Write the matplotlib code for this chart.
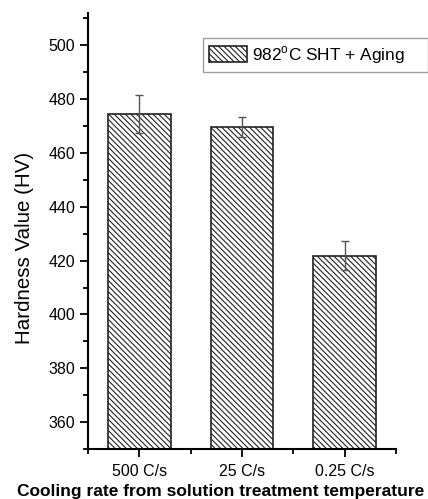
import matplotlib
matplotlib.use("Agg")
import matplotlib.pyplot as plt
from matplotlib.ticker import MultipleLocator, FixedLocator
import numpy as np

# data
categories = ["500 C/s", "25 C/s", "0.25 C/s"]
hardness = [474.4, 469.7, 421.8]
hardness_err = [7.0, 3.6, 5.4]
series_label = "982$^{\\mathrm{o}}$C SHT + Aging"

plt.rcParams["font.family"] = ["Liberation Sans", "DejaVu Sans"]
plt.rcParams["mathtext.fontset"] = "custom"
plt.rcParams["mathtext.rm"] = "Liberation Sans"
plt.rcParams["hatch.color"] = "#555555"
plt.rcParams["hatch.linewidth"] = 0.8

fig = plt.figure(figsize=(4.28, 4.99), dpi=100)
ax = fig.add_axes([0.2056, 0.1002, 0.7196, 0.8738])

x = np.arange(len(categories))
ax.bar(x, hardness, width=0.61, color="white", edgecolor="#222222",
       linewidth=1.2, hatch="\\\\\\\\\\\\", label=series_label, zorder=2)
ax.errorbar(x, hardness, yerr=hardness_err, fmt="none", ecolor="#555555",
            elinewidth=1.0, capsize=2.6, capthick=1.0, zorder=3)

ax.set_xlim(-0.5, len(categories) - 0.5)
ax.set_ylim(350, 512)
ax.set_xticks(x)
ax.set_xticklabels(categories, fontsize=11.5)
ax.xaxis.set_minor_locator(FixedLocator([-0.5, 0.5, 1.5, 2.5]))
ax.yaxis.set_minor_locator(MultipleLocator(10))
ax.set_yticks(np.arange(360, 501, 20))
ax.tick_params(axis="y", labelsize=11.5)

for side in ["top", "right"]:
    ax.spines[side].set_visible(False)
for side in ["left", "bottom"]:
    ax.spines[side].set_linewidth(1.5)
ax.tick_params(which="major", direction="out", length=6, width=1.3, pad=3)
ax.tick_params(axis="x", which="major", pad=5)
ax.tick_params(which="minor", direction="out", length=3.5, width=1.3)

ax.set_ylabel("Hardness Value (HV)", fontsize=14.8)
ax.yaxis.set_label_coords(-0.175, 0.46)
ax.set_xlabel("Cooling rate from solution treatment temperature",
              fontsize=12.5, fontweight="bold")
ax.xaxis.set_label_coords(0.432, -0.081)

leg = ax.legend(loc="upper left", bbox_to_anchor=(0.373, 0.85, 0.731, 0.093),
                mode="expand", fontsize=12.4,
                frameon=True, fancybox=False, edgecolor="#888888",
                handlelength=2.2, handleheight=1.05, borderpad=0.35,
                handletextpad=0.3, borderaxespad=0)
leg.get_frame().set_linewidth(1.0)

fig.savefig("out.png", dpi=100)
